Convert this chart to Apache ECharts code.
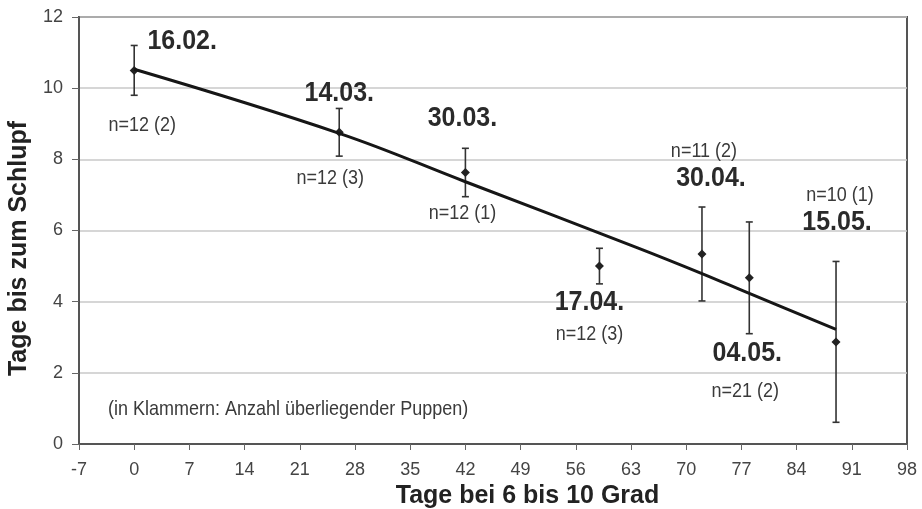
<!DOCTYPE html>
<html>
<head>
<meta charset="utf-8">
<script src="https://cdn.jsdelivr.net/npm/echarts@6/dist/echarts.min.js"></script>
<style>html,body{margin:0;padding:0;background:#fff}#c{width:922px;height:509px}</style>
</head>
<body>
<div id="c"></div>
<script>
// ---- data ----
var days = [0, 26, 42, 59, 72, 78, 89];
var means = [10.5, 8.76, 7.63, 5.0, 5.34, 4.67, 2.87];
var errors = [0.7, 0.67, 0.68, 0.5, 1.32, 1.57, 2.26];
var dateLabels = ['16.02.', '14.03.', '30.03.', '17.04.', '30.04.', '04.05.', '15.05.'];
var nLabels = ['n=12 (2)', 'n=12 (3)', 'n=12 (1)', 'n=12 (3)', 'n=11 (2)', 'n=21 (2)', 'n=10 (1)'];
var trendDays = [0, 26, 42, 64, 72, 78, 89];
var trendValues = [10.53, 8.73, 7.37, 5.5, 4.79, 4.23, 3.22];
var xTicks = [-7, 0, 7, 14, 21, 28, 35, 42, 49, 56, 63, 70, 77, 84, 91, 98];
var yTicks = [0, 2, 4, 6, 8, 10, 12];
var note = '(in Klammern: Anzahl überliegender Puppen)';

// ---- label placement (pixel offsets from each point) ----
var dateOffsets = [[48, -29], [0, -39], [-3, -54], [-10, 36], [9, -76], [-2, 76], [1, -119]];
var nOffsets = [[8, 55], [-9, 46], [-3, 41], [-10, 68], [2, -102], [-4, 114], [4, -146]];

var FONT = '"Liberation Sans", Arial, sans-serif';
var chart = echarts.init(document.getElementById('c'), null, {renderer: 'canvas'});

var pointData = days.map(function (d, i) { return [d, means[i], errors[i], i]; });
var trendData = trendDays.map(function (d, i) { return [d, trendValues[i]]; });

function renderPoint(params, api) {
  var x = api.value(0), y = api.value(1), e = api.value(2), idx = api.value(3);
  var p = api.coord([x, y]);
  var top = api.coord([x, y + e]);
  var bot = api.coord([x, y - e]);
  var cap = 3.5, s = 4.5;
  var st = {stroke: '#333', lineWidth: 1.6};
  var children = [
    {type: 'line', shape: {x1: p[0], y1: top[1], x2: p[0], y2: bot[1]}, style: st},
    {type: 'line', shape: {x1: p[0] - cap, y1: top[1], x2: p[0] + cap, y2: top[1]}, style: st},
    {type: 'line', shape: {x1: p[0] - cap, y1: bot[1], x2: p[0] + cap, y2: bot[1]}, style: st},
    {type: 'polygon', shape: {points: [[p[0], p[1] - s], [p[0] + s, p[1]], [p[0], p[1] + s], [p[0] - s, p[1]]]},
      style: {fill: '#222'}},
    {type: 'text', x: p[0] + dateOffsets[idx][0], y: p[1] + dateOffsets[idx][1], scaleY: 1.1,
      style: {text: dateLabels[idx], fill: '#2a2a2a', font: 'bold 25px ' + FONT, align: 'center', verticalAlign: 'middle'}},
    {type: 'text', x: p[0] + nOffsets[idx][0], y: p[1] + nOffsets[idx][1], scaleY: 1.1,
      style: {text: nLabels[idx], fill: '#3a3a3a', font: '18px ' + FONT, align: 'center', verticalAlign: 'middle'}}
  ];
  return {type: 'group', children: children};
}

var option = {
  animation: false,
  backgroundColor: '#fff',
  grid: {left: 79, right: 15, top: 17, bottom: 65, outerBoundsMode: 'none', containLabel: false,
    show: true, borderColor: '#555', borderWidth: 2, backgroundColor: 'transparent'},
  xAxis: {
    type: 'value', min: xTicks[0], max: xTicks[xTicks.length - 1], interval: 7,
    name: 'Tage bei 6 bis 10 Grad', nameLocation: 'middle', nameGap: 39,
    nameTextStyle: {fontFamily: FONT, fontSize: 25, fontWeight: 'bold', color: '#222', padding: [0, 0, 0, 69]},
    axisLine: {show: true, onZero: false, lineStyle: {color: '#555', width: 2}},
    axisTick: {show: true, length: 6, lineStyle: {color: '#666', width: 1}},
    axisLabel: {margin: 17, fontFamily: FONT, fontSize: 18, color: '#444'},
    splitLine: {show: false}
  },
  yAxis: {
    type: 'value', min: yTicks[0], max: yTicks[yTicks.length - 1], interval: 2,
    name: 'Tage bis zum Schlupf', nameLocation: 'middle', nameGap: 46,
    nameTextStyle: {fontFamily: FONT, fontSize: 25, fontWeight: 'bold', color: '#222', padding: [0, 36, 0, 0]},
    axisLine: {show: true, onZero: false, lineStyle: {color: '#555', width: 2}},
    axisTick: {show: true, length: 7, lineStyle: {color: '#666', width: 1}},
    axisLabel: {margin: 16, fontFamily: FONT, fontSize: 18, color: '#444'},
    splitLine: {show: true, lineStyle: {color: '#c8c8c8', width: 1.5}}
  },
  graphic: [{
    type: 'text', left: 108, top: 400, scaleY: 1.1,
    style: {text: note, fill: '#3a3a3a', font: '18px ' + FONT}
  }],
  series: [
    {
      type: 'custom', renderItem: renderPoint, data: pointData, z: 3,
      encode: {x: 0, y: 1}, clip: false
    },
    {
      type: 'line', data: trendData, smooth: 0.4, symbol: 'none', z: 4,
      lineStyle: {color: '#161616', width: 3}
    }
  ]
};
chart.setOption(option);
</script>
</body>
</html>
